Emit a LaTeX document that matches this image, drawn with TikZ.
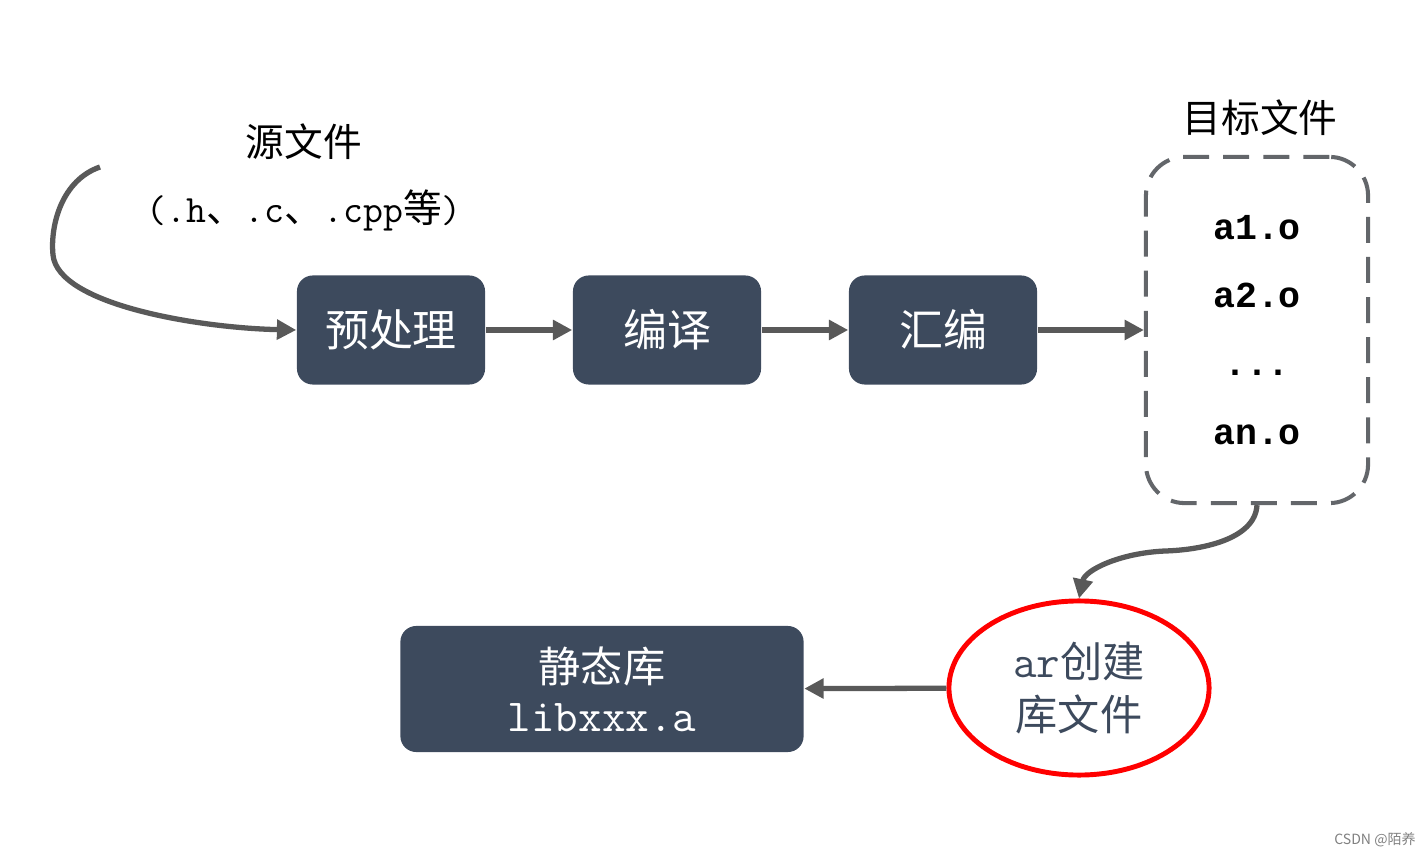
\documentclass[tikz,border=0pt]{standalone}
\usepackage{fontspec}
\setmainfont{Noto Sans CJK SC}
\newfontfamily\boldmono{Liberation Mono}
\usetikzlibrary{arrows.meta,shapes.geometric}
\definecolor{boxblue}{HTML}{3D4A5D}
\definecolor{arrowgray}{HTML}{595959}
\definecolor{dashgray}{HTML}{63666A}

\begin{document}
\begin{tikzpicture}[
  x=0.01cm,
  y=-0.01cm,
  flowtip/.tip={Triangle[length=5.5pt,width=5.5pt]},
  procbox/.style={
    fill=boxblue,
    rounded corners=4.5pt,
    text=white,
    minimum width=1.88cm,
    minimum height=1.09cm,
    font=\fontsize{12.5}{15}\selectfont
  },
  flow/.style={
    draw=arrowgray,
    line width=1.5pt,
    -flowtip
  }
]
  \useasboundingbox (0,0) rectangle (1424,855);

  % source files
  \node (SrcTitle) at (304,142) {\fontsize{11}{13}\selectfont 源文件};
  \node (SrcExt) at (304,210)
    {\fontsize{11}{13}\selectfont{\ttfamily (.h}、{\ttfamily .c}、{\ttfamily .cpp}等{\ttfamily )}};
  \coordinate (SrcStart) at (100,167);

  % compile chain
  \node[procbox] (Pre) at (391,330) {预处理};
  \node[procbox] (Comp) at (667,330) {编译};
  \node[procbox] (Asm) at (943,330) {汇编};

  % object files
  \node (ObjTitle) at (1260,118) {\fontsize{11}{13}\selectfont 目标文件};
  \node[
    draw=dashgray,
    line width=1.15pt,
    dash pattern=on 7.4pt off 4pt,
    rounded corners=11pt,
    minimum width=2.22cm,
    minimum height=3.46cm,
    align=center,
    font=\boldmono\bfseries\fontsize{10.4}{19.4}\selectfont
  ] (Obj) at (1257,330) {a1.o\\a2.o\\...\\an.o};

  % archive step
  \node[
    ellipse,
    draw=red,
    line width=1.4pt,
    minimum width=2.6cm,
    minimum height=1.74cm,
    align=center,
    text=boxblue,
    font=\fontsize{12}{15}\selectfont
  ] (Ar) at (1079,688) {{\ttfamily\fontsize{13}{15}\selectfont ar}创建\\库文件};
  \node[
    procbox,
    minimum width=4.03cm,
    minimum height=1.26cm,
    align=center,
    font=\fontsize{12}{14}\selectfont
  ] (Lib) at (602,689) {静态库\\{\ttfamily\fontsize{13}{14}\selectfont libxxx.a}};

  % connectors
  \draw[flow] (SrcStart) .. controls (62,180) and (50,225) .. (53,255)
    .. controls (58,305) and (200,328) .. (Pre.west);
  \draw[flow] (Pre) -- (Comp);
  \draw[flow] (Comp) -- (Asm);
  \draw[flow] (Asm) -- (Obj);
  \draw[flow] (Obj.south) .. controls (1255,540) and (1200,550) .. (1165,551)
    .. controls (1120,553) and (1085,570) .. (Ar.north);
  \draw[flow] (Ar) -- (Lib);

  \node[text=gray, font=\fontsize{4}{5}\selectfont] (Mark) at (1375,840) {CSDN @陌养};
\end{tikzpicture}
\end{document}
